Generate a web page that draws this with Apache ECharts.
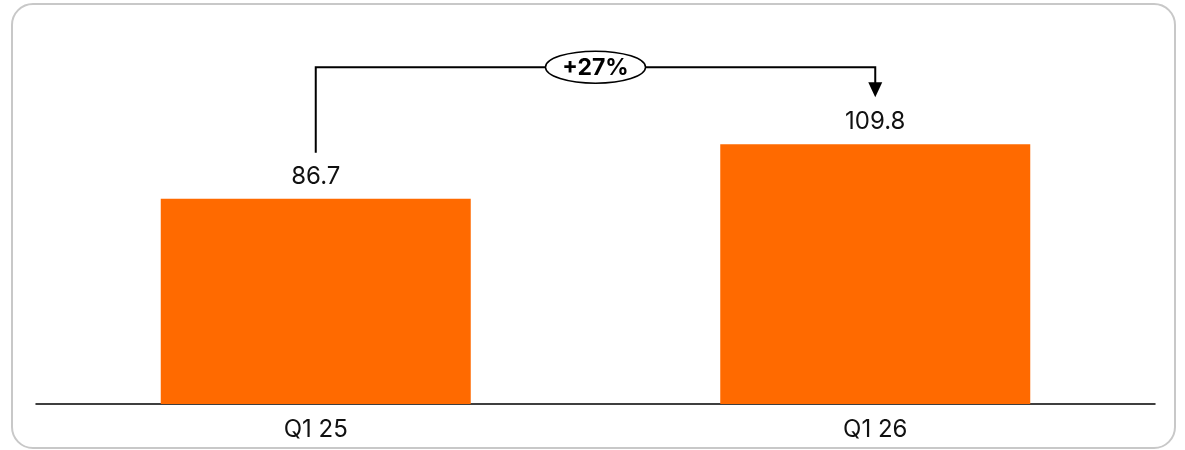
<!DOCTYPE html>
<html><head><meta charset="utf-8">
<script src="https://cdn.jsdelivr.net/npm/echarts@6/dist/echarts.min.js"></script>
<style>
html,body{margin:0;padding:0;background:#fff;}
#frame{position:absolute;left:11px;top:3px;width:1161px;height:442px;border:2px solid #c8c8c8;border-radius:22px;}
#c{position:absolute;left:0;top:0;width:1185px;height:450px;}
</style></head>
<body>
<div id="frame"></div>
<div id="c"></div>
<script>
const categories = ['Q1 25', 'Q1 26'];
const values = [86.7, 109.8];
const changeLabel = '+27%';

const FONT = 'Inter, "Noto Sans", sans-serif';
const chart = echarts.init(document.getElementById('c'));
chart.setOption({
  animation: false,
  grid: {left: 36, right: 30, top: 49, bottom: 46},
  xAxis: {
    type: 'category', data: categories,
    axisLine: {lineStyle: {color: '#000', width: 1.5}},
    axisTick: {show: false},
    axisLabel: {color: '#111', fontSize: 24, fontFamily: FONT, margin: 14}
  },
  yAxis: {type: 'value', min: 0, max: 150, show: false, splitLine: {show: false}},
  series: [{
    type: 'bar', data: values, barWidth: 310,
    itemStyle: {color: '#ff6a00'},
    label: {show: true, position: 'top', distance: 10, color: '#111', fontSize: 24, fontFamily: FONT,
      formatter: p => p.value.toFixed(1)}
  }]
});

function drawAnnotation() {
  const p0 = chart.convertToPixel({seriesIndex: 0}, [0, values[0]]);
  const p1 = chart.convertToPixel({seriesIndex: 0}, [1, values[1]]);
  const x0 = p0[0], x1 = p1[0];
  const yTop = Math.min(p0[1], p1[1]) - 77;
  const y0 = p0[1] - 46, y1 = p1[1] - 47;
  const mx = (x0 + x1) / 2;
  chart.setOption({
    graphic: [
      {type: 'polyline', shape: {points: [[x0, y0], [x0, yTop], [x1, yTop], [x1, y1 - 13]]},
       style: {stroke: '#000', lineWidth: 2, fill: null}, z: 10},
      {type: 'polygon', shape: {points: [[x1 - 7, y1 - 15], [x1 + 7, y1 - 15], [x1, y1]]},
       style: {fill: '#000'}, z: 10},
      {type: 'ellipse', shape: {cx: mx, cy: yTop, rx: 50, ry: 16},
       style: {fill: '#fff', stroke: '#000', lineWidth: 1.5}, z: 11},
      {type: 'text', x: mx, y: yTop + 1, z: 12,
       style: {text: changeLabel, fill: '#000', font: 'bold 23px ' + FONT, align: 'center', verticalAlign: 'middle'}}
    ]
  });
}
drawAnnotation();
</script>
</body></html>
